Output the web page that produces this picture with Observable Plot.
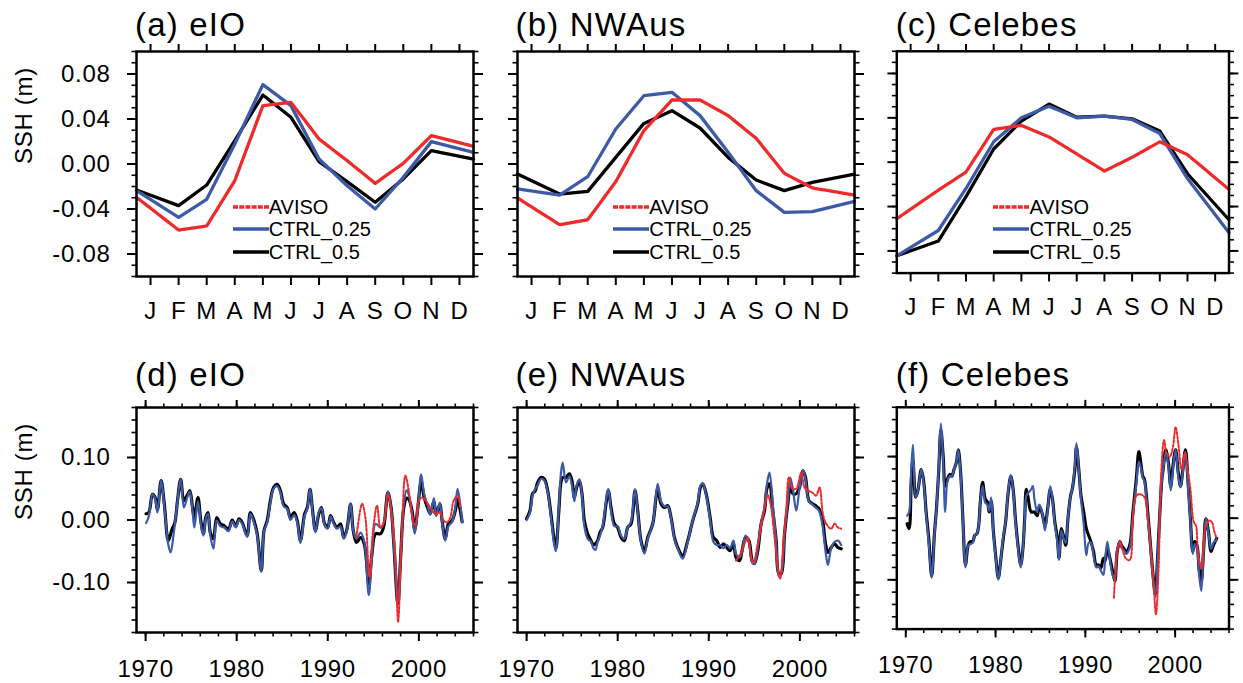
<!DOCTYPE html>
<html><head><meta charset="utf-8">
<script src="https://cdn.jsdelivr.net/npm/d3@7"></script>
<script src="https://cdn.jsdelivr.net/npm/@observablehq/plot@0.6"></script>
<style>
body{margin:0;background:#fff;font-family:"Liberation Sans",Arial,sans-serif;}
#root{position:relative;width:1243px;height:683px;overflow:hidden;background:#fff;}
.ttl{position:absolute;font-size:33px;line-height:32px;letter-spacing:1.2px;white-space:nowrap;color:#000;}
.pan{position:absolute;}
.legrow{position:absolute;display:flex;align-items:center;height:24px;font-size:20px;line-height:24px;white-space:nowrap;color:#000;}
.legrow svg{display:block;}
</style></head><body><div id="root"></div><script>
// ---------- data ----------
const monthLabels = ["J","F","M","A","M","J","J","A","S","O","N","D"];
const monthTicks = [1,2,3,4,5,6,7,8,9,10,11,12];
// vertex positions of the climatology curves (first/last vertices sit on the frame edges)
const climX = [0.5,2,3,4,5,6,7,8,9,10,11,12.5];

const eioAviso = [-0.0296,-0.0587,-0.0551,-0.0148,0.0519,0.0548,0.0222,0.0030,-0.0172,0.0006,0.0252,0.0157];
const eioCtrl025 = [-0.0237,-0.0474,-0.0314,0.0178,0.0705,0.0519,0.0044,-0.0193,-0.0400,-0.0119,0.0199,0.0104];
const eioCtrl05 = [-0.0231,-0.0370,-0.0187,0.0207,0.0613,0.0415,0.0021,-0.0157,-0.0340,-0.0133,0.0119,0.0044];

const nwaAviso = [-0.0302,-0.0539,-0.0495,-0.0157,0.0296,0.0569,0.0569,0.0430,0.0228,-0.0083,-0.0213,-0.0276];
const nwaCtrl025 = [-0.0222,-0.0276,-0.0113,0.0311,0.0607,0.0637,0.0430,0.0104,-0.0237,-0.0430,-0.0424,-0.0332];
const nwaCtrl05 = [-0.0089,-0.0267,-0.0243,0.0059,0.0361,0.0474,0.0320,0.0059,-0.0142,-0.0237,-0.0163,-0.0089];

const celAviso = [-0.0510,-0.0252,-0.0089,0.0296,0.0332,0.0228,0.0074,-0.0080,0.0044,0.0184,0.0068,-0.0246];
const celCtrl025 = [-0.0844,-0.0616,-0.0237,0.0184,0.0400,0.0504,0.0400,0.0415,0.0385,0.0258,-0.0148,-0.0637];
const celCtrl05 = [-0.0844,-0.0711,-0.0311,0.0119,0.0370,0.0524,0.0406,0.0415,0.0391,0.0281,-0.0104,-0.0519];

const climYTicks = [-0.08,-0.04,0,0.04,0.08];
const tsYTicks = [-0.1,0,0.1];
const tsXTicks = [1970,1980,1990,2000];

// time series: [year, SSH anomaly (m)]
const eioTsCtrl05 = [[1970.05,0.010],[1970.35,0.012],[1970.75,0.041],[1971.05,0.036],[1971.3,0.016],[1971.7,0.063],[1972.05,0.026],[1972.5,-0.033],[1972.9,-0.015],[1973.2,-0.005],[1973.5,0.031],[1973.85,0.065],[1974.2,0.031],[1974.55,0.039],[1974.85,0.047],[1975.15,0.020],[1975.35,0.003],[1975.75,0.036],[1976.05,0.000],[1976.35,-0.022],[1976.6,0.004],[1976.85,0.012],[1977.1,-0.020],[1977.45,-0.030],[1977.8,0.004],[1978.2,-0.006],[1978.6,-0.009],[1979.1,-0.015],[1979.5,0.000],[1979.9,-0.010],[1980.25,0.002],[1980.6,-0.004],[1981.15,-0.025],[1981.5,0.012],[1981.9,-0.001],[1982.25,-0.022],[1982.7,-0.081],[1983.0,-0.017],[1983.35,-0.001],[1983.7,0.031],[1984.05,0.052],[1984.45,0.057],[1984.8,0.047],[1985.15,0.026],[1985.55,0.020],[1985.9,0.004],[1986.3,0.012],[1986.65,-0.001],[1987.0,-0.033],[1987.45,0.009],[1987.75,0.020],[1988.05,0.049],[1988.3,0.020],[1988.65,-0.017],[1989.0,0.009],[1989.3,0.020],[1989.65,-0.006],[1990.0,-0.012],[1990.3,0.007],[1990.65,-0.004],[1991.0,-0.012],[1991.4,-0.006],[1991.75,-0.028],[1992.1,-0.015],[1992.5,0.025],[1992.8,-0.017],[1993.15,-0.036],[1993.6,-0.028],[1994.0,-0.038],[1994.5,-0.102],[1994.85,-0.054],[1995.25,-0.022],[1995.8,-0.022],[1996.15,-0.010],[1996.6,0.044],[1996.95,0.020],[1997.25,-0.038],[1997.7,-0.134],[1998.0,-0.060],[1998.35,0.020],[1998.65,0.035],[1998.9,0.033],[1999.25,0.015],[1999.55,-0.015],[1999.85,0.015],[2000.25,0.060],[2000.6,0.035],[2000.95,0.020],[2001.25,0.010],[2001.65,0.030],[2001.9,0.009],[2002.3,0.025],[2002.55,-0.001],[2002.9,-0.030],[2003.25,-0.006],[2003.65,-0.001],[2004.0,0.015],[2004.25,0.033],[2004.55,0.015],[2004.75,-0.003]];
const eioTsCtrl025 = [[1970.05,-0.005],[1970.35,0.006],[1970.75,0.041],[1971.05,0.034],[1971.3,0.012],[1971.7,0.063],[1972.05,0.022],[1972.5,-0.040],[1972.75,-0.052],[1973.1,-0.020],[1973.5,0.030],[1973.85,0.066],[1974.2,0.020],[1974.55,0.035],[1974.85,0.046],[1975.15,0.015],[1975.35,-0.012],[1975.75,0.030],[1976.05,-0.005],[1976.35,-0.025],[1976.6,0.002],[1976.85,0.010],[1977.1,-0.025],[1977.45,-0.046],[1977.8,-0.001],[1978.2,-0.010],[1978.6,-0.012],[1979.1,-0.018],[1979.5,-0.002],[1979.9,-0.012],[1980.25,0.000],[1980.6,-0.006],[1981.15,-0.027],[1981.5,0.010],[1981.9,-0.004],[1982.25,-0.025],[1982.7,-0.083],[1983.0,-0.018],[1983.35,-0.004],[1983.7,0.028],[1984.05,0.050],[1984.45,0.054],[1984.8,0.044],[1985.15,0.022],[1985.55,0.018],[1985.9,0.000],[1986.3,0.008],[1986.65,-0.004],[1987.0,-0.037],[1987.45,0.006],[1987.75,0.018],[1988.05,0.050],[1988.3,0.017],[1988.65,-0.020],[1989.0,0.012],[1989.3,0.019],[1989.65,-0.008],[1990.0,-0.014],[1990.3,0.006],[1990.65,-0.006],[1991.0,-0.014],[1991.4,-0.010],[1991.75,-0.030],[1992.1,-0.017],[1992.5,0.027],[1992.8,-0.017],[1993.15,-0.030],[1993.6,-0.020],[1994.0,-0.034],[1994.5,-0.120],[1994.85,-0.060],[1995.25,-0.006],[1995.8,-0.012],[1996.15,-0.005],[1996.6,0.046],[1996.95,0.018],[1997.25,-0.040],[1997.7,-0.130],[1998.0,-0.055],[1998.35,0.025],[1998.65,0.048],[1998.9,0.040],[1999.25,0.010],[1999.55,-0.022],[1999.85,0.010],[2000.25,0.073],[2000.6,0.040],[2000.95,0.025],[2001.25,0.008],[2001.65,0.035],[2001.9,0.006],[2002.3,0.028],[2002.55,-0.004],[2002.9,-0.033],[2003.25,-0.010],[2003.65,-0.003],[2004.0,0.020],[2004.25,0.050],[2004.55,0.025],[2004.75,-0.003]];
const eioTsAviso = [[1993.14,-0.028],[1993.77,0.026],[1994.13,0.004],[1994.57,-0.091],[1994.97,-0.017],[1995.41,0.023],[1995.78,-0.012],[1996.14,-0.004],[1996.62,0.041],[1997.06,0.004],[1997.43,-0.060],[1997.72,-0.163],[1998.08,-0.044],[1998.52,0.071],[1998.89,0.047],[1999.36,-0.001],[1999.62,-0.009],[1999.98,0.031],[2000.35,0.036],[2000.9,0.028],[2001.26,0.020],[2001.81,0.010],[2002.29,0.012],[2002.73,-0.001],[2003.09,-0.004],[2003.46,0.004],[2003.82,0.031],[2004.26,0.039],[2004.55,0.020]];

const nwaTsCtrl05 = [[1970.0,0.002],[1970.37,0.015],[1970.66,0.042],[1970.95,0.047],[1971.21,0.060],[1971.58,0.068],[1971.94,0.066],[1972.31,0.047],[1972.67,0.010],[1973.04,-0.033],[1973.22,-0.045],[1973.52,0.010],[1973.77,0.060],[1973.96,0.068],[1974.32,0.068],[1974.69,0.074],[1974.98,0.063],[1975.24,0.036],[1975.49,0.052],[1975.79,0.063],[1976.08,0.042],[1976.34,-0.001],[1976.7,-0.022],[1977.07,-0.033],[1977.33,-0.040],[1977.55,-0.038],[1977.8,-0.033],[1978.06,-0.020],[1978.35,-0.012],[1978.72,0.026],[1978.97,0.047],[1979.27,0.020],[1979.63,-0.006],[1980.0,-0.012],[1980.37,-0.028],[1980.73,-0.033],[1981.1,-0.012],[1981.47,-0.006],[1981.9,0.047],[1982.2,0.015],[1982.56,-0.033],[1982.93,-0.050],[1983.3,-0.028],[1983.85,-0.006],[1984.21,0.036],[1984.4,0.052],[1984.76,0.026],[1985.13,0.020],[1985.49,0.023],[1985.86,0.004],[1986.23,-0.028],[1986.59,-0.044],[1987.14,-0.057],[1987.69,-0.033],[1988.24,-0.001],[1988.79,0.026],[1989.08,0.052],[1989.34,0.058],[1989.71,0.042],[1990.15,0.004],[1990.51,-0.028],[1990.88,-0.033],[1991.25,-0.044],[1991.61,-0.038],[1991.98,-0.044],[1992.34,-0.049],[1992.71,-0.038],[1993.0,-0.060],[1993.37,-0.065],[1993.66,-0.049],[1994.03,-0.028],[1994.4,-0.033],[1994.76,-0.065],[1995.02,-0.070],[1995.38,-0.049],[1995.75,-0.006],[1996.12,0.015],[1996.41,0.052],[1996.67,0.058],[1997.03,0.015],[1997.4,-0.033],[1997.69,-0.086],[1997.95,-0.086],[1998.32,-0.022],[1998.68,0.026],[1998.94,0.052],[1999.23,0.042],[1999.6,0.042],[1999.96,0.052],[2000.33,0.079],[2000.62,0.068],[2000.99,0.031],[2001.36,0.026],[2001.72,0.023],[2002.09,0.018],[2002.45,0.004],[2002.82,-0.038],[2003.08,-0.052],[2003.44,-0.044],[2003.81,-0.038],[2004.18,-0.044],[2004.54,-0.046]];
const nwaTsCtrl025 = [[1970.0,0.000],[1970.37,0.012],[1970.66,0.040],[1970.95,0.050],[1971.21,0.055],[1971.58,0.066],[1971.94,0.063],[1972.31,0.045],[1972.67,0.005],[1973.04,-0.040],[1973.22,-0.050],[1973.52,0.015],[1973.77,0.075],[1973.96,0.092],[1974.32,0.060],[1974.69,0.070],[1974.98,0.055],[1975.24,0.030],[1975.49,0.055],[1975.79,0.065],[1976.08,0.040],[1976.34,-0.010],[1976.7,-0.030],[1977.07,-0.035],[1977.33,-0.045],[1977.55,-0.048],[1977.8,-0.035],[1978.06,-0.025],[1978.35,-0.010],[1978.72,0.030],[1978.97,0.050],[1979.27,0.015],[1979.63,-0.010],[1980.0,-0.010],[1980.37,-0.025],[1980.73,-0.030],[1981.1,-0.012],[1981.47,-0.002],[1981.9,0.050],[1982.2,0.012],[1982.56,-0.035],[1982.93,-0.054],[1983.3,-0.030],[1983.85,-0.006],[1984.21,0.040],[1984.4,0.058],[1984.76,0.030],[1985.13,0.022],[1985.49,0.022],[1985.86,0.002],[1986.23,-0.030],[1986.59,-0.046],[1987.14,-0.062],[1987.69,-0.035],[1988.24,0.000],[1988.79,0.028],[1989.08,0.055],[1989.34,0.058],[1989.71,0.040],[1990.15,0.000],[1990.51,-0.035],[1990.88,-0.040],[1991.25,-0.040],[1991.61,-0.045],[1991.98,-0.040],[1992.34,-0.045],[1992.71,-0.033],[1993.0,-0.055],[1993.37,-0.060],[1993.66,-0.050],[1994.03,-0.025],[1994.4,-0.035],[1994.76,-0.068],[1995.02,-0.070],[1995.38,-0.045],[1995.75,-0.004],[1996.12,0.020],[1996.41,0.060],[1996.67,0.076],[1997.03,0.025],[1997.4,-0.035],[1997.69,-0.090],[1997.95,-0.086],[1998.32,-0.020],[1998.68,0.030],[1998.94,0.068],[1999.23,0.050],[1999.6,0.015],[1999.96,0.050],[2000.33,0.080],[2000.62,0.065],[2000.99,0.030],[2001.36,0.025],[2001.72,0.020],[2002.09,0.015],[2002.45,-0.005],[2002.82,-0.050],[2003.08,-0.072],[2003.44,-0.045],[2003.81,-0.035],[2004.18,-0.033],[2004.54,-0.040]];
const nwaTsAviso = [[1993.0,-0.065],[1993.55,-0.052],[1993.92,-0.038],[1994.29,-0.028],[1994.65,-0.060],[1994.91,-0.068],[1995.38,-0.038],[1995.93,0.004],[1996.48,0.040],[1996.85,0.020],[1997.22,-0.028],[1997.58,-0.076],[1997.84,-0.094],[1998.21,-0.033],[1998.5,0.015],[1998.79,0.068],[1999.16,0.050],[1999.6,0.050],[2000.15,0.076],[2000.51,0.052],[2000.88,0.047],[2001.36,0.044],[2001.79,0.039],[2002.16,0.052],[2002.53,0.010],[2002.89,-0.006],[2003.44,-0.014],[2003.81,-0.006],[2004.18,-0.012],[2004.54,-0.014]];

const celTsCtrl05 = [[1970.15,-0.009],[1970.37,-0.017],[1970.62,0.063],[1970.8,0.095],[1971.1,0.034],[1971.35,0.045],[1971.72,0.079],[1971.97,0.063],[1972.27,0.010],[1972.56,-0.033],[1972.89,-0.094],[1973.18,-0.028],[1973.44,0.020],[1973.66,0.074],[1973.91,0.143],[1974.17,0.100],[1974.39,0.052],[1974.64,0.063],[1974.9,0.071],[1975.12,0.068],[1975.37,0.079],[1975.63,0.090],[1975.85,0.111],[1976.11,0.074],[1976.36,-0.001],[1976.65,-0.076],[1976.95,-0.044],[1977.2,-0.038],[1977.46,-0.038],[1977.68,-0.028],[1977.93,-0.025],[1978.12,-0.012],[1978.3,0.026],[1978.56,0.058],[1978.85,0.031],[1979.1,0.026],[1979.29,0.010],[1979.51,0.028],[1979.76,-0.022],[1980.02,-0.062],[1980.31,-0.097],[1980.6,-0.065],[1980.86,-0.033],[1981.12,-0.006],[1981.41,0.042],[1981.7,0.068],[1981.96,0.047],[1982.21,-0.001],[1982.5,-0.044],[1982.8,-0.076],[1983.05,-0.049],[1983.24,-0.001],[1983.42,0.047],[1983.6,0.036],[1983.97,0.010],[1984.33,0.010],[1984.63,0.004],[1984.88,0.020],[1985.25,0.004],[1985.5,-0.012],[1985.8,0.015],[1986.09,0.047],[1986.34,0.031],[1986.6,-0.006],[1986.89,-0.033],[1987.07,-0.065],[1987.33,-0.017],[1987.62,-0.033],[1987.81,-0.044],[1988.06,-0.001],[1988.35,0.036],[1988.54,0.047],[1988.83,0.079],[1989.01,0.116],[1989.27,0.079],[1989.52,0.036],[1989.82,0.010],[1990.11,-0.017],[1990.37,-0.028],[1990.62,-0.038],[1990.91,-0.054],[1991.21,-0.076],[1991.46,-0.076],[1991.72,-0.081],[1992.01,-0.065],[1992.19,-0.070],[1992.45,-0.049],[1992.74,-0.065],[1993.03,-0.086],[1993.29,-0.102],[1993.55,-0.054],[1993.84,-0.038],[1994.02,-0.044],[1994.28,-0.049],[1994.57,-0.054],[1994.94,-0.044],[1995.3,0.010],[1995.67,0.063],[1995.96,0.108],[1996.22,0.085],[1996.4,0.068],[1996.58,0.063],[1996.95,0.010],[1997.31,-0.054],[1997.57,-0.097],[1997.79,-0.124],[1998.04,-0.065],[1998.3,0.010],[1998.52,0.063],[1998.66,0.079],[1998.96,0.111],[1999.25,0.090],[1999.51,0.052],[1999.76,0.085],[2000.05,0.111],[2000.35,0.074],[2000.6,0.052],[2000.86,0.079],[2001.15,0.111],[2001.44,0.058],[2001.7,-0.001],[2001.96,-0.054],[2002.18,-0.038],[2002.43,-0.044],[2002.69,-0.086],[2002.91,-0.102],[2003.16,-0.054],[2003.42,-0.001],[2003.71,-0.022],[2004.0,-0.054],[2004.26,-0.044],[2004.63,-0.033]];
const celTsCtrl025 = [[1970.15,0.004],[1970.37,0.010],[1970.62,0.080],[1970.8,0.119],[1971.1,0.034],[1971.35,0.045],[1971.72,0.079],[1971.97,0.060],[1972.27,0.005],[1972.56,-0.040],[1972.89,-0.097],[1973.18,-0.030],[1973.44,0.020],[1973.66,0.080],[1973.91,0.154],[1974.17,0.090],[1974.39,0.010],[1974.64,0.060],[1974.9,0.068],[1975.12,0.068],[1975.37,0.079],[1975.63,0.090],[1975.85,0.111],[1976.11,0.070],[1976.36,-0.005],[1976.65,-0.080],[1976.95,-0.044],[1977.2,-0.042],[1977.46,-0.040],[1977.68,-0.028],[1977.93,-0.025],[1978.12,-0.012],[1978.3,0.026],[1978.56,0.052],[1978.85,0.025],[1979.1,0.022],[1979.29,0.012],[1979.51,0.034],[1979.76,-0.025],[1980.02,-0.065],[1980.31,-0.100],[1980.6,-0.065],[1980.86,-0.030],[1981.12,-0.006],[1981.41,0.045],[1981.7,0.070],[1981.96,0.045],[1982.21,-0.005],[1982.5,-0.048],[1982.8,-0.080],[1983.05,-0.049],[1983.24,-0.006],[1983.42,0.036],[1983.6,0.040],[1983.97,0.047],[1984.15,0.052],[1984.33,0.031],[1984.63,0.010],[1984.88,0.022],[1985.25,0.004],[1985.5,-0.020],[1985.8,0.012],[1986.09,0.052],[1986.34,0.030],[1986.6,-0.010],[1986.89,-0.040],[1987.07,-0.068],[1987.33,-0.020],[1987.62,-0.035],[1987.81,-0.040],[1988.06,0.000],[1988.35,0.036],[1988.54,0.047],[1988.83,0.085],[1989.01,0.122],[1989.27,0.079],[1989.52,0.030],[1989.82,-0.010],[1990.11,-0.060],[1990.37,-0.040],[1990.62,-0.040],[1990.91,-0.060],[1991.21,-0.080],[1991.46,-0.078],[1991.72,-0.085],[1992.01,-0.092],[1992.19,-0.070],[1992.45,-0.038],[1992.74,-0.068],[1993.03,-0.092],[1993.29,-0.100],[1993.55,-0.050],[1993.84,-0.040],[1994.02,-0.048],[1994.28,-0.052],[1994.57,-0.058],[1994.94,-0.048],[1995.3,0.005],[1995.67,0.055],[1995.96,0.092],[1996.22,0.080],[1996.4,0.065],[1996.58,0.060],[1996.95,0.005],[1997.31,-0.060],[1997.57,-0.105],[1997.79,-0.128],[1998.04,-0.068],[1998.3,0.010],[1998.52,0.060],[1998.66,0.078],[1998.96,0.108],[1999.25,0.085],[1999.51,0.045],[1999.76,0.080],[2000.05,0.111],[2000.35,0.068],[2000.6,0.050],[2000.86,0.075],[2001.15,0.108],[2001.44,0.050],[2001.7,-0.005],[2001.96,-0.058],[2002.18,-0.042],[2002.43,-0.050],[2002.69,-0.095],[2002.91,-0.118],[2003.16,-0.058],[2003.42,-0.001],[2003.71,-0.025],[2004.0,-0.050],[2004.26,-0.040],[2004.63,-0.035]];
const celTsAviso = [[1993.18,-0.129],[1993.55,-0.054],[1993.84,-0.038],[1994.2,-0.054],[1994.5,-0.065],[1994.94,-0.068],[1995.3,-0.001],[1995.67,0.036],[1996.03,0.039],[1996.58,0.034],[1996.95,-0.001],[1997.31,-0.054],[1997.57,-0.097],[1997.86,-0.156],[1998.15,-0.086],[1998.41,0.063],[1998.77,0.127],[1999.03,0.106],[1999.4,0.100],[1999.76,0.116],[2000.05,0.148],[2000.35,0.122],[2000.71,0.079],[2001.08,0.106],[2001.33,0.085],[2001.7,0.047],[2002.07,-0.006],[2002.32,-0.012],[2002.54,-0.054],[2002.91,-0.081],[2003.16,-0.044],[2003.42,-0.012],[2003.71,-0.004],[2004.08,-0.006],[2004.37,-0.022],[2004.63,-0.033]];

// ---------- styling ----------
const RED = "#ee2a2a", BLUE = "#3d5aa8", BLACK = "#000";
const FONT = "'Liberation Sans', Arial, sans-serif";
const FS = 24;
const FW = 337, FH = 225;
const fmt2 = d => d.toFixed(2);
const blank = () => "";

function axesFor(xMajor, xMinor, yMajor, yMinor, xFmt, yFmt, xPad) {
  const m = [
    Plot.axisX({ticks: xMajor, anchor: "bottom", tickSize: 9, tickPadding: xPad, tickFormat: xFmt, strokeWidth: 2, fontSize: FS, label: null}),
    Plot.axisX({ticks: xMajor, anchor: "top", tickSize: 8, tickFormat: blank, strokeWidth: 2, label: null}),
    Plot.axisY({ticks: yMajor, anchor: "left", tickSize: 9, tickPadding: 17, tickFormat: yFmt, strokeWidth: 2, fontSize: FS, label: null}),
    Plot.axisY({ticks: yMajor, anchor: "right", tickSize: 9, tickFormat: blank, strokeWidth: 2, label: null}),
    Plot.axisY({ticks: yMinor, anchor: "left", tickSize: 4.5, tickFormat: blank, strokeWidth: 1.6, label: null}),
    Plot.axisY({ticks: yMinor, anchor: "right", tickSize: 4.5, tickFormat: blank, strokeWidth: 1.6, label: null})
  ];
  if (xMinor) {
    m.push(Plot.axisX({ticks: xMinor, anchor: "bottom", tickSize: 4.5, tickFormat: blank, strokeWidth: 1.6, label: null}));
    m.push(Plot.axisX({ticks: xMinor, anchor: "top", tickSize: 4.5, tickFormat: blank, strokeWidth: 1.6, label: null}));
  }
  return m;
}

function ylabel() {
  return Plot.text(["SSH (m)"], {text: d => d, frameAnchor: "left", dx: -112, rotate: -90, fontSize: FS});
}

function makePlot(marks, xDomain, yDomain, ml) {
  return Plot.plot({
    width: ml + FW + 15, height: 15 + FH + 50,
    marginLeft: ml, marginRight: 15, marginTop: 15, marginBottom: 50,
    style: {background: "none", overflow: "visible", fontFamily: FONT, fontSize: FS + "px", letterSpacing: "0.7px", color: "#000"},
    x: {domain: xDomain},
    y: {domain: yDomain},
    marks
  });
}

function climPanel(aviso, c025, c05, showY) {
  const rows = s => climX.map((x, i) => ({x, y: s[i]}));
  const yMinor = d3.range(-10, 11).map(i => i / 100);
  const marks = [
    Plot.line(rows(c05), {x: "x", y: "y", stroke: BLACK, strokeWidth: 3.3}),
    Plot.line(rows(c025), {x: "x", y: "y", stroke: BLUE, strokeWidth: 3.3}),
    Plot.line(rows(aviso), {x: "x", y: "y", stroke: RED, strokeWidth: 3.3, strokeDasharray: "6,1.2"}),
    Plot.frame({strokeWidth: 2.5}),
    ...axesFor(monthTicks, null, climYTicks, yMinor, d => monthLabels[d - 1], showY ? fmt2 : blank, 16)
  ];
  if (showY) marks.push(ylabel());
  return makePlot(marks, [0.5, 12.5], [-0.1, 0.1], showY ? 136 : 50);
}

function tsPanel(aviso, c025, c05, showY) {
  const rows = s => s.map(([x, y]) => ({x, y}));
  const yMinor = d3.range(-9, 10).map(i => i * 0.02);
  const xMinor = d3.range(1970, 2007, 2);
  const marks = [
    Plot.line(rows(c05), {x: "x", y: "y", stroke: BLACK, strokeWidth: 3.2, curve: "catmull-rom"}),
    Plot.line(rows(c025), {x: "x", y: "y", stroke: BLUE, strokeWidth: 2.2, curve: "catmull-rom"}),
    Plot.line(rows(aviso), {x: "x", y: "y", stroke: RED, strokeWidth: 2, strokeDasharray: "2.5,1.8", curve: "catmull-rom"}),
    Plot.frame({strokeWidth: 2.5}),
    ...axesFor(tsXTicks, xMinor, tsYTicks, yMinor, d => String(d), showY ? fmt2 : blank, 18)
  ];
  if (showY) marks.push(ylabel());
  return makePlot(marks, [1969, 2006], [-0.18, 0.18], showY ? 136 : 50);
}

// ---------- layout ----------
const root = document.getElementById("root");
const cols = [136, 516.5, 896.7];
const rowsTop = [51, 406.7];
const titles = [["(a) eIO", "(b) NWAus", "(c) Celebes"], ["(d) eIO", "(e) NWAus", "(f) Celebes"]];
const titleTop = [9, 359];

const clim = [[eioAviso, eioCtrl025, eioCtrl05], [nwaAviso, nwaCtrl025, nwaCtrl05], [celAviso, celCtrl025, celCtrl05]];
const ts = [[eioTsAviso, eioTsCtrl025, eioTsCtrl05], [nwaTsAviso, nwaTsCtrl025, nwaTsCtrl05], [celTsAviso, celTsCtrl025, celTsCtrl05]];

for (let r = 0; r < 2; r++) {
  for (let c = 0; c < 3; c++) {
    const showY = c === 0;
    const ml = showY ? 136 : 50;
    const svg = r === 0 ? climPanel(...clim[c], showY) : tsPanel(...ts[c], showY);
    const wrap = document.createElement("div");
    wrap.className = "pan";
    wrap.style.left = (cols[c] - ml) + "px";
    wrap.style.top = (rowsTop[r] - 15) + "px";
    wrap.appendChild(svg);
    root.appendChild(wrap);

    const t = document.createElement("div");
    t.className = "ttl";
    t.textContent = titles[r][c];
    t.style.left = (cols[c] - 1) + "px";
    t.style.top = titleTop[r] + "px";
    root.appendChild(t);
  }
}

// legends in the top panels
const legendItems = [
  {label: "AVISO", color: RED, dash: "5,1.2"},
  {label: "CTRL_0.25", color: BLUE, dash: null},
  {label: "CTRL_0.5", color: BLACK, dash: null}
];
const legendOffsets = [155.7, 178.3, 201.3];
for (let c = 0; c < 3; c++) {
  legendItems.forEach((it, i) => {
    const row = document.createElement("div");
    row.className = "legrow";
    row.style.left = (cols[c] + 96.7) + "px";
    row.style.top = (rowsTop[0] + legendOffsets[i] - 12) + "px";
    row.innerHTML = `<svg width="36" height="8"><line x1="0" x2="36" y1="4" y2="4" stroke="${it.color}" stroke-width="3.3"${it.dash ? ` stroke-dasharray="${it.dash}"` : ""}/></svg><span>${it.label}</span>`;
    root.appendChild(row);
  });
}
</script></body></html>
